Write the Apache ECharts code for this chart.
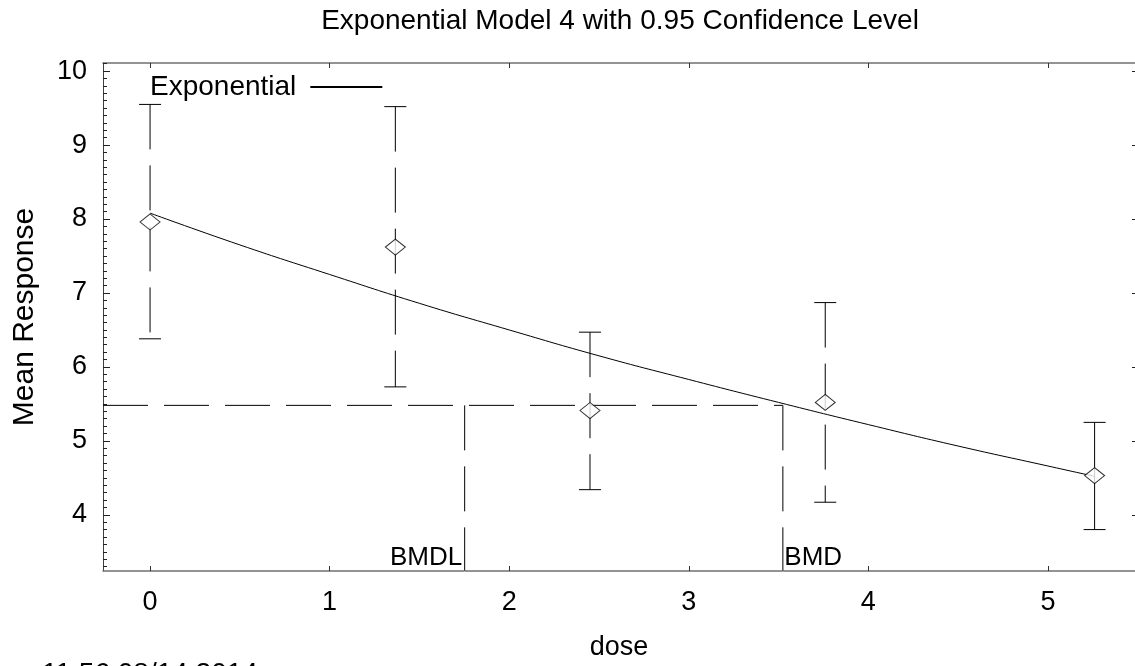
<!DOCTYPE html>
<html>
<head>
<meta charset="utf-8">
<script src="https://cdn.jsdelivr.net/npm/echarts@6/dist/echarts.min.js"></script>
<style>
  html, body { margin: 0; padding: 0; background: #fff; }
  #chart { width: 1135px; height: 666px; }
</style>
</head>
<body>
<div id="chart"></div>
<script>
// observed means with 95% bounds
const doses = [0, 1.366, 2.45, 3.76, 5.26]
const means = [7.96, 7.62, 5.41, 5.52, 4.53]
const lower = [6.38, 5.73, 4.34, 4.17, 3.80]
const upper = [9.55, 9.52, 6.47, 6.87, 5.25]

// fitted exponential curve
const curveDose = [0, 0.5, 1, 1.5, 2, 2.5, 3, 3.5, 4, 4.5, 5, 5.26]
const curveResp = [8.08, 7.65, 7.25, 6.86, 6.50, 6.15, 5.83, 5.52, 5.22, 4.93, 4.66, 4.52]

const bmr = 5.48
const bmdl = 1.752
const bmd = 3.524

const xTicks = [0, 1, 2, 3, 4, 5]
const yTicks = [4, 5, 6, 7, 8, 9, 10]
const xMin = -0.262
const xMax = 5.485
const yMin = 3.24
const yMax = 10.11

const yMinor = []
for (let v = 33; v <= 101; v++) yMinor.push(v / 10)

const font = 'Liberation Sans, Arial, Helvetica, sans-serif'
const axisColor = '#707070'
const dashPattern = [45, 16]

const chart = echarts.init(document.getElementById('chart'))

const markLabel = { show: true, fontSize: 26, color: '#000', fontFamily: font, verticalAlign: 'bottom' }

const option = {
  animation: false,
  backgroundColor: '#fff',
  textStyle: { fontFamily: font },
  grid: { left: 103, right: 0, top: 63, bottom: 92 },
  legend: {
    data: ['Exponential'],
    left: 145,
    top: 68,
    align: 'right',
    itemWidth: 72,
    itemHeight: 14,
    itemStyle: { opacity: 0 },
    textStyle: { fontSize: 28, color: '#000', fontFamily: font, padding: [0, 9, 0, 0] }
  },
  xAxis: [
    {
      type: 'value',
      position: 'bottom',
      min: xMin,
      max: xMax,
      name: 'dose',
      nameLocation: 'middle',
      nameGap: 63,
      nameTextStyle: { fontSize: 27, color: '#000', fontFamily: font },
      splitLine: { show: false },
      axisLine: { show: true, onZero: false, lineStyle: { color: axisColor, width: 1.5 } },
      axisTick: { show: true, inside: true, length: 5, customValues: xTicks, lineStyle: { color: '#333' } },
      axisLabel: { customValues: xTicks, fontSize: 27, color: '#000', margin: 18, fontFamily: font }
    },
    {
      type: 'value',
      position: 'top',
      min: xMin,
      max: xMax,
      splitLine: { show: false },
      axisLine: { show: true, onZero: false, lineStyle: { color: axisColor, width: 1.5 } },
      axisTick: { show: true, inside: true, length: 5, customValues: xTicks, lineStyle: { color: '#333' } },
      axisLabel: { show: false }
    }
  ],
  yAxis: [
    {
      type: 'value',
      position: 'left',
      min: yMin,
      max: yMax,
      name: 'Mean Response',
      nameLocation: 'middle',
      nameGap: 63,
      nameTextStyle: { fontSize: 30, color: '#000', fontFamily: font },
      splitLine: { show: false },
      axisLine: { show: true, onZero: false, lineStyle: { color: '#404040', width: 1 } },
      axisTick: { show: true, inside: true, length: 7, customValues: yTicks, lineStyle: { color: '#222' } },
      axisLabel: { customValues: yTicks, fontSize: 27, color: '#000', margin: 16, fontFamily: font }
    },
    {
      type: 'value',
      position: 'left',
      min: yMin,
      max: yMax,
      splitLine: { show: false },
      axisLine: { show: false, onZero: false },
      axisTick: { show: true, inside: true, length: 4, customValues: yMinor, lineStyle: { color: '#222' } },
      axisLabel: { show: false }
    },
    {
      type: 'value',
      position: 'right',
      min: yMin,
      max: yMax,
      splitLine: { show: false },
      axisLine: { show: false, onZero: false },
      axisTick: { show: true, inside: true, length: 3, customValues: yTicks, lineStyle: { color: '#222' } },
      axisLabel: { show: false }
    }
  ],
  graphic: [
    {
      type: 'text',
      x: 620,
      y: 7,
      style: {
        text: 'Exponential Model 4 with 0.95 Confidence Level',
        font: '28px ' + font,
        fill: '#000',
        textAlign: 'center',
        textVerticalAlign: 'top'
      }
    },
    {
      type: 'text',
      x: 42,
      y: 660,
      style: {
        text: '11:56 08/14 2014',
        font: '28px ' + font,
        fill: '#000',
        textAlign: 'left',
        textVerticalAlign: 'top'
      }
    }
  ],
  series: [
    {
      name: 'Exponential',
      type: 'line',
      smooth: true,
      symbol: 'none',
      data: curveDose.map((d, i) => [d, curveResp[i]]),
      itemStyle: { color: '#000' },
      lineStyle: { color: '#000', width: 1 },
      z: 3
    },
    {
      // BMR horizontal line
      type: 'line',
      symbol: 'none',
      data: [[xMin, bmr], [bmd, bmr]],
      lineStyle: { color: '#000', width: 1, type: dashPattern },
      silent: true,
      z: 2
    },
    {
      type: 'line',
      symbol: 'none',
      data: [[bmdl, bmr], [bmdl, yMin]],
      lineStyle: { color: '#000', width: 1, type: dashPattern },
      silent: true,
      z: 2
    },
    {
      type: 'line',
      symbol: 'none',
      data: [[bmd, bmr], [bmd, yMin]],
      lineStyle: { color: '#000', width: 1, type: dashPattern },
      silent: true,
      z: 2
    },
    {
      // BMDL / BMD labels
      type: 'scatter',
      symbolSize: 1,
      itemStyle: { color: '#fff', opacity: 1 },
      data: [
        { value: [bmdl, yMin], label: Object.assign({}, markLabel, { formatter: 'BMDL', position: 'left', distance: 2, align: 'right' }) },
        { value: [bmd, yMin], label: Object.assign({}, markLabel, { formatter: 'BMD', position: 'right', distance: 1, align: 'left' }) }
      ],
      silent: true,
      z: 4
    },
    {
      // error bars
      type: 'custom',
      data: doses.map((d, i) => [d, lower[i], upper[i]]),
      renderItem (params, api) {
        const x = api.value(0)
        const top = api.coord([x, api.value(2)])
        const bot = api.coord([x, api.value(1)])
        const half = 11
        const dash = params.dataIndex === doses.length - 1 ? null : dashPattern
        return {
          type: 'group',
          children: [
            { type: 'line', shape: { x1: top[0], y1: top[1], x2: bot[0], y2: bot[1] }, style: { stroke: '#000', lineWidth: 1, lineDash: dash } },
            { type: 'line', shape: { x1: top[0] - half, y1: top[1], x2: top[0] + half, y2: top[1] }, style: { stroke: '#000', lineWidth: 1 } },
            { type: 'line', shape: { x1: bot[0] - half, y1: bot[1], x2: bot[0] + half, y2: bot[1] }, style: { stroke: '#000', lineWidth: 1 } }
          ]
        }
      },
      silent: true,
      z: 2
    },
    {
      type: 'scatter',
      symbol: 'diamond',
      symbolSize: [20, 16],
      data: doses.map((d, i) => [d, means[i]]),
      itemStyle: { color: '#fff', borderColor: '#000', borderWidth: 1 },
      silent: true,
      z: 5
    }
  ]
}

chart.setOption(option)
</script>
</body>
</html>
